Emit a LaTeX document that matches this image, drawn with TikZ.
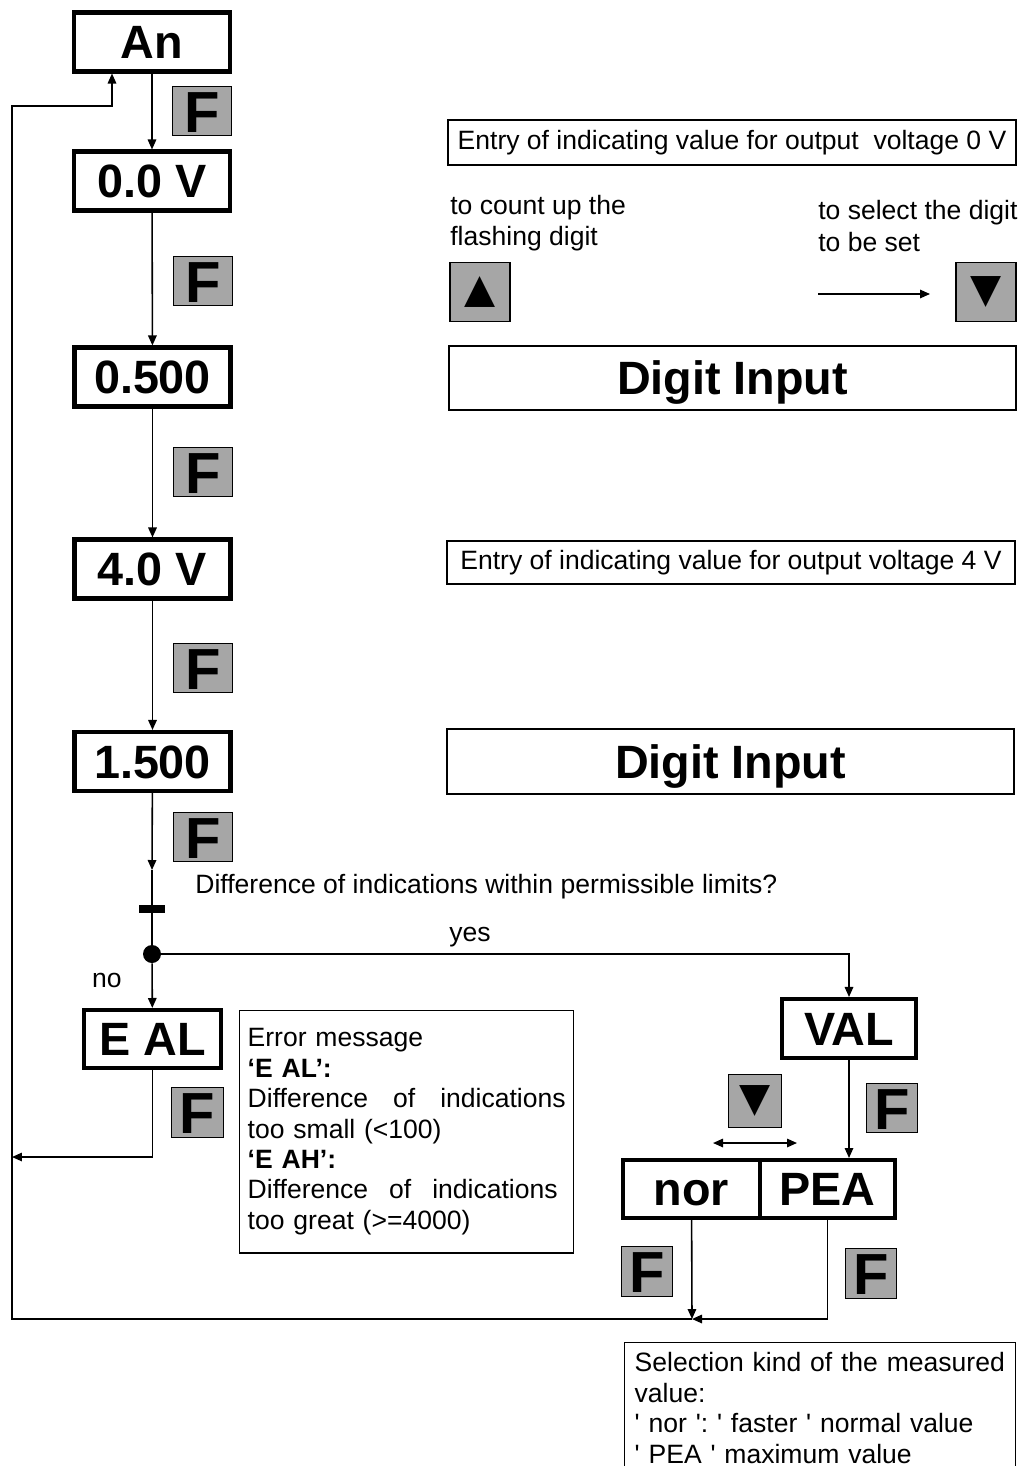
\documentclass[tikz,border=0pt]{standalone}
\usepackage{fontspec}
\setmainfont{Liberation Sans}[Ligatures=TeXOff]
\newfontfamily\symfont{DejaVu Sans}
\usetikzlibrary{arrows.meta}
\definecolor{keygray}{RGB}{166,166,166}
\frenchspacing

\begin{document}
\begin{tikzpicture}[x=0.02cm, y=-0.02cm,
		disp/.style={draw, line width=2.3pt, minimum width=3.12cm, minimum height=1.18cm, inner sep=0pt, text height=19pt, text depth=0pt, font=\fontsize{26.6}{28}\selectfont\bfseries},
		key/.style={draw, fill=keygray, line width=0.8pt, minimum width=1.17cm, minimum height=0.97cm, inner sep=0pt},
		fkey/.style={key, text height=24pt, text depth=0pt, font=\fontsize{33}{33}\selectfont\bfseries},
		arrowkey/.style={key, font=\symfont\fontsize{23}{23}\selectfont, minimum width=1.2cm, minimum height=1.17cm},
		infobox/.style={draw, line width=0.8pt, inner sep=0pt, font=\fontsize{15.1}{17.3}\selectfont\frenchspacing},
		digitbox/.style={draw, line width=0.9pt, minimum width=11.34cm, inner sep=0pt, text height=19pt, text depth=0pt, font=\fontsize{26.6}{28}\selectfont\bfseries},
		txt/.style={inner sep=0pt, font=\fontsize{15.1}{18}\selectfont},
		arrow/.style={-{Triangle[length=2mm, width=1.7mm]}, line width=0.9pt}
	]
	\useasboundingbox (0,0) rectangle (1021,1466);

	% main column
	\node[disp] (an) at (152,42) {An};
	\node[disp] (u0) at (152,181) {0.0 V};
	\node[disp] (d0) at (152.5,377) {0.500};
	\node[disp] (u4) at (152.5,569) {4.0 V};
	\node[disp] (d4) at (152.5,761.5) {1.500};
	\node[fkey] (f1) at (202,111) {F};
	\node[fkey] (f2) at (203,281) {F};
	\node[fkey] (f3) at (203,472) {F};
	\node[fkey] (f4) at (203,668) {F};
	\node[fkey] (f5) at (203,837) {F};

	% right hand notes
	\node[infobox, minimum width=11.36cm, minimum height=0.9cm] (entry0) at (732,142.5) {Entry of indicating value for output~ voltage 0 V};
	\node[txt, anchor=west, align=left] (uptxt) at (450,223) {to count up the\\flashing digit};
	\node[txt, anchor=west, align=left] (seltxt) at (818,226) {to select the digit\\to be set};
	\node[arrowkey] (upkey) at (480,292) {▲};
	\node[arrowkey] (downkey) at (986,292) {▼};
	\coordinate (selfrom) at (818,294);
	\coordinate (selto) at (930,294);
	\node[digitbox, minimum height=1.28cm] (input0) at (732.5,378) {Digit Input};
	\node[infobox, minimum width=11.36cm, minimum height=0.86cm] (entry4) at (731,562.5) {Entry of indicating value for output voltage 4 V};
	\node[digitbox, minimum height=1.3cm] (input4) at (730.5,761.5) {Digit Input};

	% decision
	\coordinate (tip) at (152,870);
	\node[fill=black, minimum width=0.54cm, minimum height=0.16cm, inner sep=0pt] (bar) at (152,909) {};
	\node[txt, anchor=west] (question) at (195,887) {Difference of indications within permissible limits?};
	\node[circle, fill=black, minimum size=0.36cm, inner sep=0pt] (dot) at (152,954) {};
	\node[txt] (yes) at (470,937) {yes};
	\node[txt] (no) at (107,980) {no};

	% error branch
	\node[disp, minimum width=2.74cm, minimum height=1.16cm] (eal) at (152.5,1039) {E AL};
	\node[fkey, minimum width=1.03cm, minimum height=0.99cm] (f6) at (197.5,1112.5) {F};
	\node[infobox, anchor=north west, text width=6.36cm, inner xsep=0.16cm, inner ysep=0.36cm, align=left] (err) at (239,1010) {%
		Error message\\
		\textbf{‘E AL’:}\\
		\makebox[\linewidth][s]{Difference\hfill of\hfill indications}\\
		too small (<100)\\
		\textbf{‘E AH’:}\\
		\makebox[0.975\linewidth][s]{Difference\hfill of\hfill indications}\\
		too great (>=4000)};
	\coordinate (ret) at (12,1157);

	% measured value branch
	\node[disp, minimum width=2.68cm] (val) at (849,1028.5) {VAL};
	\node[fkey, minimum width=1.03cm, minimum height=0.99cm] (f7) at (892,1108) {F};
	\node[arrowkey, minimum width=1.06cm, minimum height=1.06cm] (downkey2) at (755,1101) {▼};
	\coordinate (swl) at (713,1143);
	\coordinate (swr) at (797,1143);
	\node[disp, minimum width=2.74cm, minimum height=1.16cm] (nor) at (691.5,1189) {nor};
	\node[disp, minimum width=2.7cm, minimum height=1.16cm] (pea) at (827.5,1189) {PEA};
	\node[fkey, minimum width=1.03cm, minimum height=1cm] (f8) at (647,1271.5) {F};
	\node[fkey, minimum width=1.03cm, minimum height=1cm] (f9) at (871,1273.5) {F};
	\coordinate (join) at (692,1319);
	\node[infobox, anchor=north west, text width=7.42cm, inner xsep=0.2cm, inner ysep=0.2cm, align=left] (sel) at (624,1342) {%
		Selection kind of the measured\\
		value:\\
		' nor ': ' faster ' normal value\\
		' PEA ' maximum value};

	% return loop
	\coordinate (cl) at (12,1319);
	\coordinate (ct) at (12,106);
	\coordinate (cu) at (112,106);

	\draw[arrow] (an) -- (u0);
	\draw[arrow] (u0) -- (d0);
	\draw[arrow] (d0) -- (u4);
	\draw[arrow] (u4) -- (d4);
	\draw[arrow] (d4) -- (tip);
	\draw[line width=0.9pt] (tip) -- (bar) -- (dot);
	\draw[arrow] (dot) -- (eal);
	\draw[arrow] (dot) -| (val);
	\draw[arrow] (eal) |- (ret);
	\draw[arrow] (selfrom) -- (selto);
	\draw[arrow] (val) -- (val |- pea.north);
	\draw[{Triangle[length=2mm, width=1.7mm]}-{Triangle[length=2mm, width=1.7mm]}, line width=0.9pt] (swl) -- (swr);
	\draw[arrow] (nor) -- (join);
	\draw[arrow] (pea) |- (join);
	\draw[arrow] (join) -- (cl) -- (ct) -- (cu) -- (cu |- an.south);
\end{tikzpicture}
\end{document}
